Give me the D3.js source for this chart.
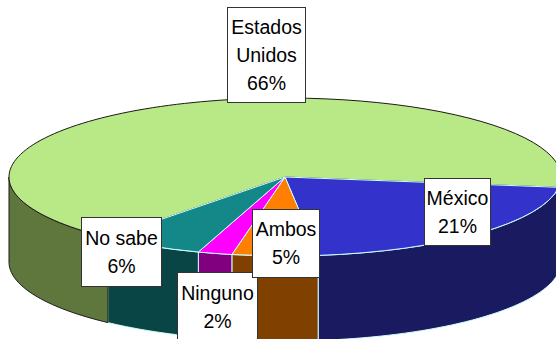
<!DOCTYPE html>
<html><head><meta charset="utf-8">
<style>html,body{margin:0;padding:0;background:#fff}svg{display:block}</style>
<script src="https://cdn.jsdelivr.net/npm/d3@7"></script></head>
<body><svg id="c" width="556" height="339"></svg>
<script>
const categories=["México","Ambos","Ninguno","No sabe","Estados Unidos"];
const values=[21,5,2,6,66];
const labelLines=[["México","21%"],["Ambos","5%"],["Ninguno","2%"],["No sabe","6%"],["Estados","Unidos","66%"]];
const topColors=["#3333cc","#ff8000","#ff00ff","#148888","#b8e986"];
const sideColors=["#1a1a60","#804000","#800080","#0a4545","#5f763c"];
const strokes=["#ccffff","#ccffff","#ccffff","#ccffff","#1a1a1a"];
const boxes=[[424,178,66,67],[252,209,67,68],[177,272,80,70],[81,217,80,69],[227,7,78,95]];
const cx=285,cy=177,rx=276,ry=79,depth=85;
const start=97.5*Math.PI/180;
const svg=d3.select("#c");
const pie=d3.pie().sort(null).startAngle(start).endAngle(start+2*Math.PI)(values);
const px=a=>cx+rx*Math.sin(a), py=a=>cy-ry*Math.cos(a);
const line=d3.line();
const sideG=svg.append("g");
pie.forEach((d,i)=>{
  const segs=[[d.startAngle,d.endAngle],[d.startAngle-2*Math.PI,d.endAngle-2*Math.PI]];
  segs.forEach(([a0,b0])=>{
    const a=Math.max(a0,Math.PI/2),b=Math.min(b0,Math.PI*1.5);
    if(b<=a)return;
    const ts=d3.range(0,41).map(k=>a+(b-a)*k/40);
    const pts=ts.map(t=>[px(t),py(t)]).concat(ts.slice().reverse().map(t=>[px(t),py(t)+depth]));
    sideG.append("path").attr("d",line(pts)+"Z").attr("fill",sideColors[i])
      .attr("stroke",strokes[i]).attr("stroke-width",1).attr("stroke-linejoin","round");
  });
});
const arc=d3.arc().innerRadius(0).outerRadius(rx);
const topG=svg.append("g").attr("transform",`translate(${cx},${cy}) scale(1,${ry/rx})`);
const order=[4,0,1,2,3];
order.forEach(i=>{
  topG.append("path").attr("d",arc(pie[i])).attr("fill",topColors[i])
    .attr("stroke",strokes[i]).attr("stroke-width",1).attr("vector-effect","non-scaling-stroke").attr("stroke-linejoin","round");
});
const lab=svg.append("g");
[0,3,2,1,4].forEach(i=>{
  const [x,y,w,h]=boxes[i];
  lab.append("rect").attr("x",x+.5).attr("y",y+.5).attr("width",w).attr("height",h)
    .attr("fill","#fff").attr("stroke","#333").attr("stroke-width",1);
  const ls=labelLines[i], lh=28;
  ls.forEach((t,k)=>{
    lab.append("text").attr("x",x+w/2+.5).attr("y",y+h/2+(k-(ls.length-1)/2)*lh+7)
      .attr("text-anchor","middle").attr("font-family","'Liberation Sans',Arial,sans-serif")
      .attr("font-size",19.5).attr("fill","#000").text(t);
  });
});
</script></body></html>
